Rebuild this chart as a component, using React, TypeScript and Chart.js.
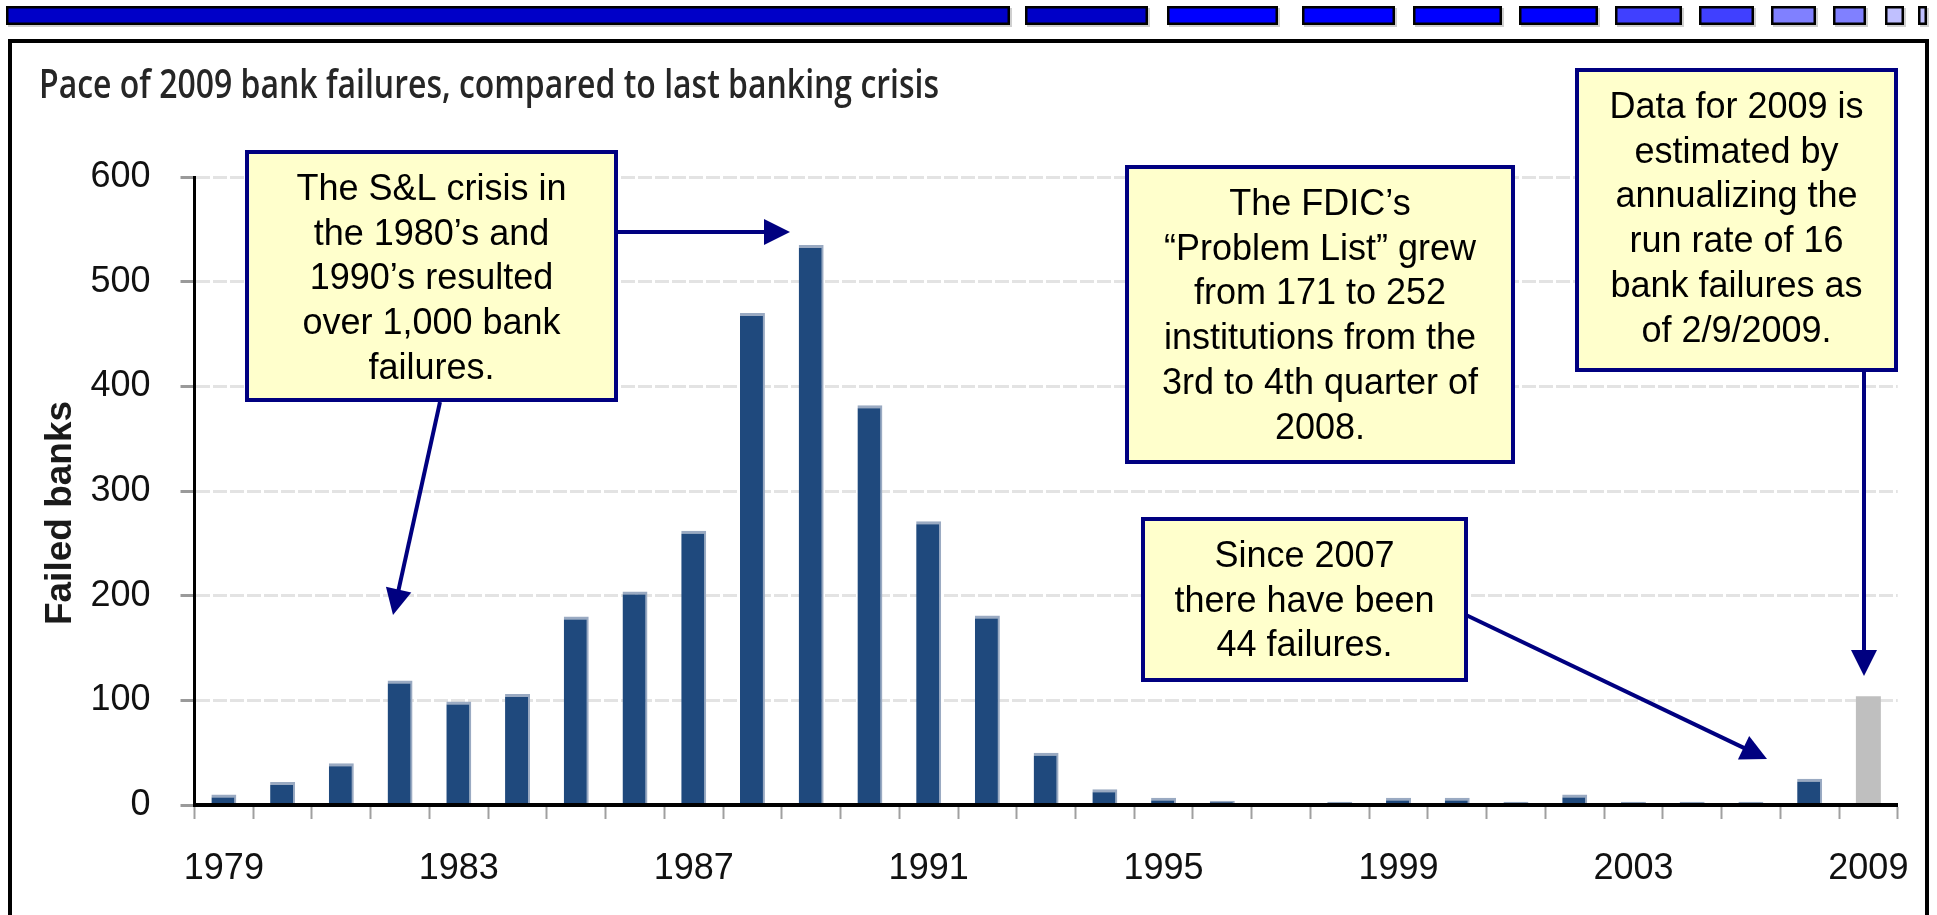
import React, { useEffect, useRef } from 'react';
import { Chart, registerables } from 'chart.js';

Chart.register(...registerables);

// ---------- data ----------
const years = [
  '1979', '1980', '1981', '1982', '1983', '1984', '1985', '1986', '1987', '1988',
  '1989', '1990', '1991', '1992', '1993', '1994', '1995', '1996', '1997', '1998',
  '1999', '2000', '2001', '2002', '2003', '2004', '2007', '2008', '2009',
];
const failedBanks = [
  10, 22, 40, 119, 99, 106, 180, 204, 262, 470,
  535, 382, 271, 181, 50, 15, 7, 4, 0, 3,
  7, 7, 3, 10, 3, 3, 3, 25, null,
];
const estimated2009 = [
  null, null, null, null, null, null, null, null, null, null,
  null, null, null, null, null, null, null, null, null, null,
  null, null, null, null, null, null, null, null, 104,
];
const xTickLabels = ['1979', '1983', '1987', '1991', '1995', '1999', '2003', '2009'];
const yMax = 600;
const yStep = 100;

const titleText = 'Pace of 2009 bank failures, compared to last banking crisis';
const yAxisTitle = 'Failed banks';

const noteSL = ['The S&L crisis in', 'the 1980\u2019s and', '1990\u2019s resulted', 'over 1,000 bank', 'failures.'];
const noteFDIC = ['The FDIC\u2019s', '\u201CProblem List\u201D grew', 'from 171 to 252', 'institutions from the', '3rd to 4th quarter of', '2008.'];
const noteData = ['Data for 2009 is', 'estimated by', 'annualizing the', 'run rate of 16', 'bank failures as', 'of 2/9/2009.'];
const noteSince = ['Since 2007', 'there have been', '44 failures.'];

// ---------- layout / style ----------
const W = 1937;
const H = 915;
const ARIAL = "'Liberation Sans', Arial, sans-serif";
const NAVY = '#000080';
const LINE_H = 44.7;
const TITLE_WIDTH = 900;

const boxes = [
  { lines: noteSL, x0: 247, y0: 152, x1: 616, y1: 400, firstBase: 200 },
  { lines: noteFDIC, x0: 1127, y0: 167, x1: 1513, y1: 462, firstBase: 215 },
  { lines: noteData, x0: 1577, y0: 70, x1: 1896, y1: 370, firstBase: 118 },
  { lines: noteSince, x0: 1143, y0: 519, x1: 1466, y1: 680, firstBase: 567 },
];

const arrows = [
  [616, 232, 790, 232],
  [440, 402, 393, 615],
  [1466, 615, 1767, 759],
  [1864, 370, 1864, 676],
];

const strip = [
  [6, 1010, '#0000C8'],
  [1025, 1148, '#0000C8'],
  [1167, 1278, '#0000FF'],
  [1302, 1395, '#0000FF'],
  [1413, 1502, '#0000FF'],
  [1519, 1598, '#0000FF'],
  [1615, 1682, '#4040FF'],
  [1699, 1754, '#4040FF'],
  [1771, 1816, '#8080FF'],
  [1833, 1866, '#8080FF'],
  [1885, 1904, '#C0C0FF'],
  [1918, 1927, '#C0C0FF'],
] as const;

function drawArrow(ctx: CanvasRenderingContext2D, x1: number, y1: number, x2: number, y2: number) {
  const ang = Math.atan2(y2 - y1, x2 - x1);
  const hl = 26;
  const hw = 13;
  const bx = x2 - hl * Math.cos(ang);
  const by = y2 - hl * Math.sin(ang);
  ctx.beginPath();
  ctx.moveTo(x1, y1);
  ctx.lineTo(bx + Math.cos(ang) * 2, by + Math.sin(ang) * 2);
  ctx.stroke();
  ctx.beginPath();
  ctx.moveTo(x2, y2);
  ctx.lineTo(bx + hw * Math.sin(ang), by - hw * Math.cos(ang));
  ctx.lineTo(bx - hw * Math.sin(ang), by + hw * Math.cos(ang));
  ctx.closePath();
  ctx.fill();
}

const decorPlugin = {
  id: 'decor',
  beforeDraw(chart: any) {
    const ctx: CanvasRenderingContext2D = chart.ctx;
    ctx.save();
    ctx.fillStyle = '#ffffff';
    ctx.fillRect(0, 0, W, H);
    // top strip
    for (const [x0, x1, color] of strip) {
      ctx.fillStyle = '#cfcfcf';
      ctx.fillRect(x0 + 2, 8, x1 - x0, 19);
      ctx.fillStyle = color;
      ctx.fillRect(x0, 6, x1 - x0, 19);
      ctx.lineWidth = 2.5;
      ctx.strokeStyle = '#000';
      ctx.strokeRect(x0 + 1.25, 7.25, x1 - x0 - 2.5, 16.5);
    }
    // frame
    ctx.lineWidth = 4;
    ctx.strokeStyle = '#000';
    ctx.strokeRect(10, 41, 1917, 900);
    // title (fitted to the reference width)
    ctx.save();
    ctx.fillStyle = '#262626';
    ctx.font = "600 39px 'Open Sans', sans-serif";
    ctx.textAlign = 'left';
    ctx.textBaseline = 'alphabetic';
    const tw = ctx.measureText(titleText).width;
    ctx.translate(39, 98);
    ctx.scale(TITLE_WIDTH / tw, 1);
    ctx.fillText(titleText, 0, 0);
    ctx.restore();
    // y axis title
    ctx.save();
    ctx.translate(71, 513);
    ctx.rotate(-Math.PI / 2);
    ctx.font = `bold 37px ${ARIAL}`;
    ctx.fillStyle = '#1a1a1a';
    ctx.textAlign = 'center';
    ctx.fillText(yAxisTitle, 0, 0);
    ctx.restore();
    ctx.restore();
  },
  afterDraw(chart: any) {
    const ctx: CanvasRenderingContext2D = chart.ctx;
    ctx.save();
    // arrows
    ctx.strokeStyle = NAVY;
    ctx.fillStyle = NAVY;
    ctx.lineWidth = 4;
    for (const [x1, y1, x2, y2] of arrows) drawArrow(ctx, x1, y1, x2, y2);
    // boxes
    for (const b of boxes) {
      ctx.fillStyle = '#FFFFCC';
      ctx.fillRect(b.x0, b.y0, b.x1 - b.x0, b.y1 - b.y0);
      ctx.lineWidth = 4;
      ctx.strokeStyle = NAVY;
      ctx.strokeRect(b.x0, b.y0, b.x1 - b.x0, b.y1 - b.y0);
      ctx.fillStyle = '#000';
      ctx.font = `36px ${ARIAL}`;
      ctx.textAlign = 'center';
      ctx.textBaseline = 'alphabetic';
      const cx = (b.x0 + b.x1) / 2;
      b.lines.forEach((t, i) => ctx.fillText(t, cx, b.firstBase + i * LINE_H));
    }
    ctx.restore();
  },
};

export default function App() {
  const ref = useRef<HTMLCanvasElement>(null);

  useEffect(() => {
    if (!ref.current) return;
    const chart = new Chart(ref.current, {
      type: 'bar',
      data: {
        labels: years,
        datasets: [
          {
            label: 'Failed banks',
            data: failedBanks,
            backgroundColor: '#1F497D',
            borderColor: '#9AAAC2',
            borderWidth: { top: 3, right: 2, left: 0, bottom: 0 },
            borderSkipped: 'start',
            barPercentage: 0.85,
            categoryPercentage: 0.5,
          },
          {
            label: '2009 estimate',
            data: estimated2009,
            backgroundColor: '#BFBFBF',
            borderWidth: 0,
            barPercentage: 0.85,
            categoryPercentage: 0.5,
          },
        ],
      },
      options: {
        animation: false,
        responsive: true,
        maintainAspectRatio: false,
        layout: { padding: { left: 12, top: 177, right: 34, bottom: 0 } },
        plugins: {
          legend: { display: false },
          title: { display: false },
          tooltip: { enabled: false },
        },
        scales: {
          x: {
            stacked: true,
            grid: {
              display: true,
              drawOnChartArea: false,
              drawTicks: true,
              tickLength: 14,
              tickColor: '#a0a0a0',
              tickWidth: 2,
              offset: true,
            },
            border: { display: true, color: '#000', width: 4, z: 1 },
            ticks: {
              autoSkip: false,
              maxRotation: 0,
              minRotation: 0,
              padding: 28,
              color: '#111',
              font: { family: ARIAL, size: 36 },
              callback: (_v: any, i: number) => (xTickLabels.includes(years[i]) ? years[i] : ''),
            },
            afterFit: (s: any) => {
              s.height = 110;
            },
          },
          y: {
            stacked: true,
            min: 0,
            max: yMax,
            ticks: {
              stepSize: yStep,
              padding: 30,
              color: '#111',
              font: { family: ARIAL, size: 36 },
            },
            grid: {
              color: '#e3e3e3',
              lineWidth: 3,
              tickLength: 14,
              tickColor: '#9a9a9a',
              tickWidth: 3,
            },
            border: { display: true, color: '#000', width: 3, z: 1, dash: [14, 3] },
            afterFit: (s: any) => {
              s.width = 182.5;
            },
          },
        },
      },
      plugins: [decorPlugin],
    } as any);
    return () => chart.destroy();
  }, []);

  return (
    <div
      style={{
        position: 'fixed',
        left: 0,
        top: 0,
        width: '100vw',
        height: '100vh',
        overflow: 'hidden',
        background: '#fff',
      }}
    >
      <div style={{ position: 'absolute', left: 0, top: 0, width: W, height: H }}>
        <canvas ref={ref} />
      </div>
    </div>
  );
}
